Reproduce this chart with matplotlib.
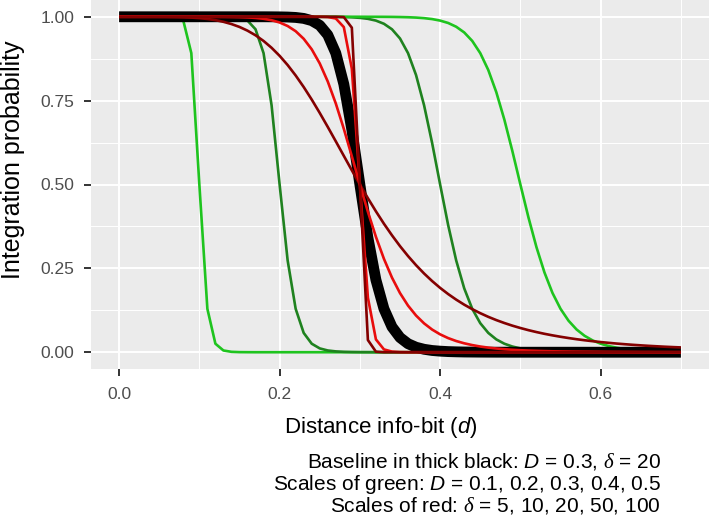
import matplotlib
matplotlib.use("Agg")
import matplotlib.pyplot as plt

plt.rcParams['font.family'] = ['Liberation Sans', 'DejaVu Sans']
plt.rcParams['mathtext.fontset'] = 'custom'
plt.rcParams['mathtext.rm'] = 'Liberation Sans'
plt.rcParams['mathtext.it'] = 'Liberation Sans:italic'
plt.rcParams['mathtext.sf'] = 'Liberation Serif:italic'

# distance grid (d)
dist = [0.00, 0.01, 0.02, 0.03, 0.04, 0.05, 0.06, 0.07, 0.08, 0.09,
        0.10, 0.11, 0.12, 0.13, 0.14, 0.15, 0.16, 0.17, 0.18, 0.19,
        0.20, 0.21, 0.22, 0.23, 0.24, 0.25, 0.26, 0.27, 0.28, 0.29,
        0.30, 0.31, 0.32, 0.33, 0.34, 0.35, 0.36, 0.37, 0.38, 0.39,
        0.40, 0.41, 0.42, 0.43, 0.44, 0.45, 0.46, 0.47, 0.48, 0.49,
        0.50, 0.51, 0.52, 0.53, 0.54, 0.55, 0.56, 0.57, 0.58, 0.59,
        0.60, 0.61, 0.62, 0.63, 0.64, 0.65, 0.66, 0.67, 0.68, 0.69,
        0.70]

# baseline D = 0.3, delta = 20
base_p = [1, 1, 1, 1, 1, 1, 1, 1, 1, 1,
          1, 1, 1, 1, 1, 1, 1, 1, 1, 0.9999,
          0.9997, 0.9992, 0.9980, 0.9951, 0.9886, 0.9746, 0.9459, 0.8916, 0.7990, 0.6633,
          0.5, 0.3417, 0.2157, 0.1294, 0.0756, 0.0438, 0.0254, 0.0149, 0.0088, 0.0052,
          0.0032, 0.0019, 0.0012, 0.0007, 0.0005, 0.0003, 0.0002, 0.0001, 0.0001, 0,
          0, 0, 0, 0, 0, 0, 0, 0, 0, 0,
          0, 0, 0, 0, 0, 0, 0, 0, 0, 0,
          0]

# green: D varies
green_D01 = [1, 1, 1, 1, 1, 1, 1, 0.9992, 0.9886, 0.8916,
             0.5, 0.1294, 0.0254, 0.0052, 0.0012, 0.0003, 0.0001, 0, 0, 0,
             0, 0, 0, 0, 0, 0, 0, 0, 0, 0,
             0, 0, 0, 0, 0, 0, 0, 0, 0, 0,
             0, 0, 0, 0, 0, 0, 0, 0, 0, 0,
             0, 0, 0, 0, 0, 0, 0, 0, 0, 0,
             0, 0, 0, 0, 0, 0, 0, 0, 0, 0,
             0]
green_D02 = [1, 1, 1, 1, 1, 1, 1, 1, 1, 1,
             1, 1, 1, 0.9998, 0.9992, 0.9968, 0.9886, 0.9627, 0.8916, 0.7361,
             0.5, 0.2737, 0.1294, 0.0576, 0.0254, 0.0114, 0.0052, 0.0025, 0.0012, 0.0006,
             0.0003, 0.0002, 0.0001, 0, 0, 0, 0, 0, 0, 0,
             0, 0, 0, 0, 0, 0, 0, 0, 0, 0,
             0, 0, 0, 0, 0, 0, 0, 0, 0, 0,
             0, 0, 0, 0, 0, 0, 0, 0, 0, 0,
             0]
green_D03 = base_p
green_D04 = [1, 1, 1, 1, 1, 1, 1, 1, 1, 1,
             1, 1, 1, 1, 1, 1, 1, 1, 1, 1,
             1, 1, 1, 1, 1, 0.9999, 0.9998, 0.9996, 0.9992, 0.9984,
             0.9968, 0.9939, 0.9886, 0.9791, 0.9627, 0.9353, 0.8916, 0.8262, 0.7361, 0.6240,
             0.5, 0.3790, 0.2737, 0.1905, 0.1294, 0.0866, 0.0576, 0.0382, 0.0254, 0.0170,
             0.0114, 0.0077, 0.0052, 0.0036, 0.0025, 0.0017, 0.0012, 0.0008, 0.0006, 0.0004,
             0.0003, 0.0002, 0.0002, 0.0001, 0.0001, 0.0001, 0, 0, 0, 0,
             0]
green_D05 = [1, 1, 1, 1, 1, 1, 1, 1, 1, 1,
             1, 1, 1, 1, 1, 1, 1, 1, 1, 1,
             1, 1, 1, 1, 1, 1, 1, 1, 1, 1,
             1, 0.9999, 0.9999, 0.9998, 0.9996, 0.9992, 0.9986, 0.9976, 0.9959, 0.9931,
             0.9886, 0.9815, 0.9703, 0.9533, 0.9280, 0.8916, 0.8413, 0.7751, 0.6935, 0.5997,
             0.5, 0.4023, 0.3134, 0.2377, 0.1766, 0.1294, 0.0939, 0.0678, 0.0489, 0.0352,
             0.0254, 0.0184, 0.0134, 0.0097, 0.0071, 0.0052, 0.0039, 0.0029, 0.0021, 0.0016,
             0.0012]

# red: delta varies
red_d5 = [1, 1, 1, 1, 1, 0.9999, 0.9997, 0.9993, 0.9987, 0.9976,
          0.9959, 0.9934, 0.9899, 0.9850, 0.9783, 0.9697, 0.9586, 0.9448, 0.9279, 0.9075,
          0.8836, 0.8561, 0.8250, 0.7906, 0.7532, 0.7133, 0.6716, 0.6287, 0.5854, 0.5423,
          0.5, 0.4591, 0.4200, 0.3830, 0.3485, 0.3163, 0.2867, 0.2595, 0.2347, 0.2122,
          0.1918, 0.1734, 0.1568, 0.1418, 0.1284, 0.1164, 0.1055, 0.0958, 0.0871, 0.0792,
          0.0722, 0.0658, 0.0601, 0.0549, 0.0503, 0.0461, 0.0423, 0.0388, 0.0357, 0.0329,
          0.0303, 0.0280, 0.0258, 0.0239, 0.0221, 0.0205, 0.0190, 0.0177, 0.0164, 0.0153,
          0.0143]
red_d10 = [1, 1, 1, 1, 1, 1, 1, 1, 1, 1,
           1, 1, 0.9999, 0.9998, 0.9995, 0.9990, 0.9981, 0.9966, 0.9940, 0.9897,
           0.9830, 0.9725, 0.9570, 0.9344, 0.9030, 0.8609, 0.8070, 0.7415, 0.6660, 0.5840,
           0.5, 0.4187, 0.3440, 0.2783, 0.2224, 0.1763, 0.1390, 0.1094, 0.0860, 0.0676,
           0.0533, 0.0421, 0.0334, 0.0266, 0.0213, 0.0170, 0.0137, 0.0111, 0.0090, 0.0073,
           0.0060, 0.0049, 0.0041, 0.0034, 0.0028, 0.0023, 0.0019, 0.0016, 0.0014, 0.0012,
           0.0010, 0.0008, 0.0007, 0.0006, 0.0005, 0.0004, 0.0004, 0.0003, 0.0003, 0.0002,
           0.0002]
red_d20 = base_p
red_d50 = [1, 1, 1, 1, 1, 1, 1, 1, 1, 1,
           1, 1, 1, 1, 1, 1, 1, 1, 1, 1,
           1, 1, 1, 1, 1, 0.9999, 0.9992, 0.9949, 0.9692, 0.8449,
           0.5, 0.1625, 0.0382, 0.0084, 0.0019, 0.0004, 0.0001, 0, 0, 0,
           0, 0, 0, 0, 0, 0, 0, 0, 0, 0,
           0, 0, 0, 0, 0, 0, 0, 0, 0, 0,
           0, 0, 0, 0, 0, 0, 0, 0, 0, 0,
           0]
red_d100 = [1, 1, 1, 1, 1, 1, 1, 1, 1, 1,
            1, 1, 1, 1, 1, 1, 1, 1, 1, 1,
            1, 1, 1, 1, 1, 1, 1, 1, 0.9990, 0.9674,
            0.5, 0.0363, 0.0016, 0, 0, 0, 0, 0, 0, 0,
            0, 0, 0, 0, 0, 0, 0, 0, 0, 0,
            0, 0, 0, 0, 0, 0, 0, 0, 0, 0,
            0, 0, 0, 0, 0, 0, 0, 0, 0, 0,
            0]

greens = [green_D01, green_D02, green_D03, green_D04, green_D05]
green_cols = ['#1ec41e', '#1f821f', '#1f821f', '#1f821f', '#1ec41e']
# the delta = 20 curve sits under the baseline, the rest are drawn on top
reds_under = [red_d20]
reds_over = [red_d5, red_d10, red_d50, red_d100]
red_over_cols = ['#840000', '#e80c0c', '#e80c0c', '#840000']

W, H = 709, 516
fig = plt.figure(figsize=(W / 100, H / 100), dpi=100)
ax = fig.add_axes([91 / W, 1 - 369 / H, (W - 91) / W, 369 / H])
ax.set_facecolor('#EBEBEB')
for s in ax.spines.values():
    s.set_visible(False)

for ys, c in zip(greens, green_cols):
    ax.plot(dist, ys, color=c, lw=1.9, solid_capstyle='butt')
for ys in reds_under:
    ax.plot(dist, ys, color='#e80c0c', lw=1.9, solid_capstyle='butt')
ax.plot(dist, base_p, color='black', lw=7.8, solid_capstyle='butt',
        solid_joinstyle='round')
for ys, c in zip(reds_over, red_over_cols):
    ax.plot(dist, ys, color=c, lw=1.9, solid_capstyle='butt')

ax.set_xlim(-0.035, 0.735)
ax.set_ylim(-0.05, 1.05)
ax.set_xticks([0, 0.2, 0.4, 0.6])
ax.set_xticklabels(['0.0', '0.2', '0.4', '0.6'])
ax.set_xticks([0.1, 0.3, 0.5, 0.7], minor=True)
ax.set_yticks([0, 0.25, 0.5, 0.75, 1.0])
ax.set_yticklabels(['0.00', '0.25', '0.50', '0.75', '1.00'])
ax.set_yticks([0.125, 0.375, 0.625, 0.875], minor=True)
ax.grid(which='major', color='white', lw=1.4)
ax.grid(which='minor', color='white', lw=0.7)
ax.set_axisbelow(True)
ax.tick_params(which='major', length=5, width=1.4, color='#333333',
               labelcolor='#4D4D4D', labelsize=12.5)
ax.tick_params(axis='x', which='major', pad=8)
ax.tick_params(axis='y', which='major', pad=7)
ax.tick_params(which='minor', length=0)


def fx(px):
    return px / W


def fy(py):
    return 1 - py / H


fig.text(fx(381), fy(433), 'Distance info-bit ($d$)', ha='center', va='baseline',
         fontsize=16, color='black')
fig.text(fx(13), fy(160), 'Integration probability', ha='center', va='center',
         rotation=90, fontsize=18, color='black')

captions = [r'Baseline in thick black: $D$ = 0.3, $\mathsf{\delta}$ = 20',
            r'Scales of green: $D$ = 0.1, 0.2, 0.3, 0.4, 0.5',
            r'Scales of red: $\mathsf{\delta}$ = 5, 10, 20, 50, 100']
for txt, base in zip(captions, [468, 490, 512]):
    fig.text(fx(661), fy(base), txt, ha='right', va='baseline', fontsize=15, color='black')

fig.savefig('out.png', dpi=100)
